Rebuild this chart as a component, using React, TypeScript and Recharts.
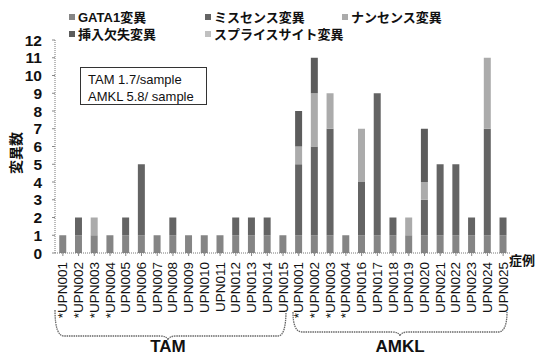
import React from "react";
import { BarChart, Bar, XAxis, YAxis } from "recharts";

// case ids (unique keys) and the labels printed under each bar
const caseIds = [
  "T001", "T002", "T003", "T004", "T005", "T006", "T007", "T008", "T009", "T010",
  "T011", "T012", "T013", "T014", "T015",
  "A001", "A002", "A003", "A004", "A016", "A017", "A018", "A019", "A020", "A021",
  "A022", "A023", "A024", "A025",
];
const caseLabels = [
  "*UPN001", "*UPN002", "*UPN003", "*UPN004", "UPN005", "UPN006", "UPN007", "UPN008",
  "UPN009", "UPN010", "UPN011", "UPN012", "UPN013", "UPN014", "UPN015",
  "*UPN001", "*UPN002", "*UPN003", "*UPN004", "UPN016", "UPN017", "UPN018", "UPN019",
  "UPN020", "UPN021", "UPN022", "UPN023", "UPN024", "UPN025",
];

// mutation counts per case
const gata1 = [1, 1, 1, 1, 1, 1, 1, 1, 1, 1, 1, 1, 1, 1, 1, 1, 1, 1, 1, 1, 1, 1, 1, 1, 1, 1, 1, 1, 1];
const missense = [0, 1, 0, 0, 1, 4, 0, 1, 0, 0, 0, 1, 1, 1, 0, 4, 5, 6, 0, 3, 8, 1, 0, 2, 4, 4, 1, 6, 1];
const nonsense = [0, 0, 1, 0, 0, 0, 0, 0, 0, 0, 0, 0, 0, 0, 0, 1, 3, 2, 0, 3, 0, 0, 1, 1, 0, 0, 0, 4, 0];
const indel = [0, 0, 0, 0, 0, 0, 0, 0, 0, 0, 0, 0, 0, 0, 0, 2, 2, 0, 0, 0, 0, 0, 0, 3, 0, 0, 0, 0, 0];
const splice = [0, 0, 0, 0, 0, 0, 0, 0, 0, 0, 0, 0, 0, 0, 0, 0, 0, 0, 0, 0, 0, 0, 0, 0, 0, 0, 0, 0, 0];

const yTicks = [0, 1, 2, 3, 4, 5, 6, 7, 8, 9, 10, 11, 12];

const series = [
  { key: "gata1", name: "GATA1変異", color: "#858585" },
  { key: "missense", name: "ミスセンス変異", color: "#646464" },
  { key: "nonsense", name: "ナンセンス変異", color: "#ababab" },
  { key: "indel", name: "挿入欠失変異", color: "#5c5c5c" },
  { key: "splice", name: "スプライスサイト変異", color: "#c0c0c0" },
];

const data = caseIds.map((id, i) => ({
  id,
  label: caseLabels[i],
  gata1: gata1[i],
  missense: missense[i],
  nonsense: nonsense[i],
  indel: indel[i],
  splice: splice[i],
}));

const FONT = "'Liberation Sans', Arial, 'Noto Sans CJK JP', sans-serif";

function CaseTick({ x, y, payload }: any) {
  const idx = caseIds.indexOf(payload.value);
  return (
    <text
      x={x}
      y={y + 4}
      transform={`rotate(-90, ${x}, ${y + 4})`}
      textAnchor="end"
      dominantBaseline="central"
      fontSize={13.5}
      fontFamily={FONT}
      fill="#111"
    >
      {caseLabels[idx]}
    </text>
  );
}

const legendPos = [
  { left: 69, top: 7 },
  { left: 205, top: 7 },
  { left: 342, top: 7 },
  { left: 69, top: 24 },
  { left: 205, top: 24 },
];

export default function App() {
  return (
    <div
      style={{
        position: "absolute",
        left: 0,
        top: 0,
        width: 536,
        height: 356,
        background: "#fff",
        fontFamily: FONT,
        overflow: "hidden",
      }}
    >
      <BarChart
        width={536}
        height={356}
        data={data}
        margin={{ top: 40, right: 25, bottom: 0, left: 0 }}
        barCategoryGap="27%"
      >
        <XAxis
          dataKey="id"
          interval={0}
          height={103}
          tick={<CaseTick />}
          axisLine={{ stroke: "#777", strokeDasharray: "1 1" }}
          tickLine={{ stroke: "#888" }}
          tickSize={3}
        />
        <YAxis
          width={55}
          domain={[0, 12]}
          ticks={yTicks}
          interval={0}
          axisLine={{ stroke: "#777", strokeDasharray: "1 1" }}
          tickLine={{ stroke: "#888" }}
          tickSize={3}
          tickMargin={10}
          tick={{ fontSize: 15.5, fontWeight: 700, fill: "#111", fontFamily: FONT }}
        />
        {series.map((s) => (
          <Bar
            key={s.key}
            dataKey={s.key}
            name={s.name}
            stackId="m"
            fill={s.color}
            isAnimationActive={false}
          />
        ))}
      </BarChart>

      {/* legend */}
      {series.map((s, i) => (
        <div
          key={s.key}
          style={{
            position: "absolute",
            left: legendPos[i].left,
            top: legendPos[i].top,
            display: "flex",
            alignItems: "center",
            fontSize: 13,
            fontWeight: 700,
            color: "#111",
            whiteSpace: "nowrap",
          }}
        >
          <span
            style={{
              display: "inline-block",
              width: 6,
              height: 6,
              background: s.color,
              marginRight: 3,
            }}
          />
          {s.name}
        </div>
      ))}

      {/* y axis title */}
      <div
        style={{
          position: "absolute",
          left: -10,
          top: 143,
          width: 50,
          textAlign: "center",
          transform: "rotate(-90deg)",
          fontSize: 14,
          fontWeight: 700,
          color: "#111",
        }}
      >
        変異数
      </div>

      {/* per-sample note */}
      <div
        style={{
          position: "absolute",
          left: 80,
          top: 67,
          width: 127,
          height: 38,
          border: "1px solid #333",
          fontSize: 13,
          lineHeight: "17px",
          padding: "3px 0 0 7px",
          boxSizing: "border-box",
          color: "#111",
        }}
      >
        <div>TAM 1.7/sample</div>
        <div>AMKL 5.8/ sample</div>
      </div>

      {/* x axis title */}
      <div
        style={{
          position: "absolute",
          left: 509,
          top: 250,
          fontSize: 13,
          fontWeight: 700,
          color: "#111",
          whiteSpace: "nowrap",
        }}
      >
        症例
      </div>

      {/* group braces */}
      <svg
        width={536}
        height={356}
        style={{ position: "absolute", left: 0, top: 0, pointerEvents: "none" }}
      >
        <path
          d="M55,310 Q55,336 64,336 L160,336 Q167,336 168,340 Q169,336 176,336 L278,336 Q286,336 286,310"
          fill="none"
          stroke="#666"
          strokeWidth={1.3}
          strokeDasharray="1.5 0.8"
        />
        <path
          d="M293,312 Q293,332 302,332 L392,332 Q399,332 400,336 Q401,332 408,332 L498,332 Q507,332 507,312"
          fill="none"
          stroke="#666"
          strokeWidth={1.3}
          strokeDasharray="1.5 0.8"
        />
        <text x={168} y={352} textAnchor="middle" fontSize={17} fontWeight={700} fontFamily={FONT} fill="#111">
          TAM
        </text>
        <text x={400} y={352} textAnchor="middle" fontSize={17} fontWeight={700} fontFamily={FONT} fill="#111">
          AMKL
        </text>
      </svg>
    </div>
  );
}
